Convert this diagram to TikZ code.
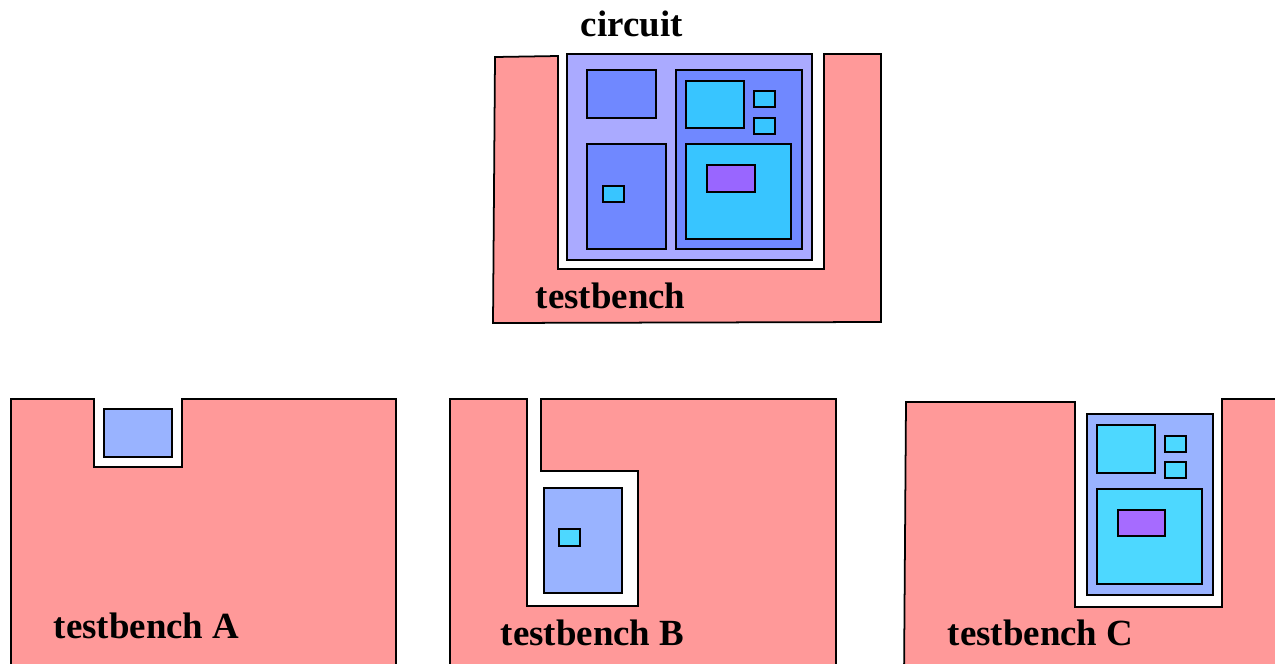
\documentclass[tikz,border=0pt]{standalone}
\usepackage{fontspec}
\setmainfont{Liberation Serif}
\usepackage{tikz}

\definecolor{benchpink}{RGB}{255,153,153}
\definecolor{circlav}{RGB}{170,170,255}
\definecolor{blockblue}{RGB}{112,136,255}
\definecolor{subblue}{RGB}{153,179,255}
\definecolor{cellcyan}{RGB}{56,197,255}
\definecolor{cellcyanB}{RGB}{77,216,255}
\definecolor{corepurple}{RGB}{153,102,255}
\definecolor{corepurpleB}{RGB}{166,107,255}

\begin{document}
\begin{tikzpicture}[x=0.02cm,y=-0.02cm,line width=1pt,line join=miter,
  bench/.style={draw,fill=benchpink},
  box/.style={draw,fill=#1},
  label/.style={anchor=base west,inner sep=0pt,font=\fontsize{21}{25}\selectfont\bfseries}]

  \useasboundingbox (0,0) rectangle (1275,663);

  % top testbench with the full circuit
  \draw[bench] (495,57) -- (558,56) -- (558,269) -- (824,269) -- (824,54)
    -- (881,54) -- (881,322) -- (493,323) -- cycle;
  \draw[box=circlav] (567,54) rectangle (812,260);
  \draw[box=blockblue] (587,70) rectangle (656,118);
  \draw[box=blockblue] (587,144) rectangle (666,249);
  \draw[box=cellcyan] (603,186) rectangle (624,202);
  \draw[box=blockblue] (676,70) rectangle (802,249);
  \draw[box=cellcyan] (686,81) rectangle (744,128);
  \draw[box=cellcyan] (754,91) rectangle (775,107);
  \draw[box=cellcyan] (754,118) rectangle (775,134);
  \draw[box=cellcyan] (686,144) rectangle (791,239);
  \draw[box=corepurple] (707,165) rectangle (755,192);
  \node[label] (circuit) at (580,36) {circuit};
  \node[label] (tb) at (535,308) {testbench};

  % testbench A
  \draw[bench] (11,680) -- (11,399) -- (94,399) -- (94,467) -- (182,467)
    -- (182,399) -- (396,399) -- (396,680) -- cycle;
  \draw[box=subblue] (104,409) rectangle (172,457);
  \node[label] (tbA) at (53,638) {testbench A};

  % testbench B
  \draw[bench] (450,680) -- (450,399) -- (527,399) -- (527,606) -- (638,606)
    -- (638,471) -- (541,471) -- (541,399) -- (836,399) -- (836,680) -- cycle;
  \draw[box=subblue] (544,488) rectangle (622,593);
  \draw[box=cellcyanB] (559,529) rectangle (580,546);
  \node[label] (tbB) at (500,645) {testbench B};

  % testbench C
  \draw[bench] (904,680) -- (906,402) -- (1075,402) -- (1075,607) -- (1222,607)
    -- (1222,399) -- (1290,399) -- (1290,680) -- cycle;
  \draw[box=subblue] (1087,414) rectangle (1213,595);
  \draw[box=cellcyanB] (1097,425) rectangle (1155,473);
  \draw[box=cellcyanB] (1165,436) rectangle (1186,452);
  \draw[box=cellcyanB] (1165,462) rectangle (1186,478);
  \draw[box=cellcyanB] (1097,489) rectangle (1202,584);
  \draw[box=corepurpleB] (1118,510) rectangle (1165,536);
  \node[label] (tbC) at (947,645) {testbench C};
\end{tikzpicture}
\end{document}
